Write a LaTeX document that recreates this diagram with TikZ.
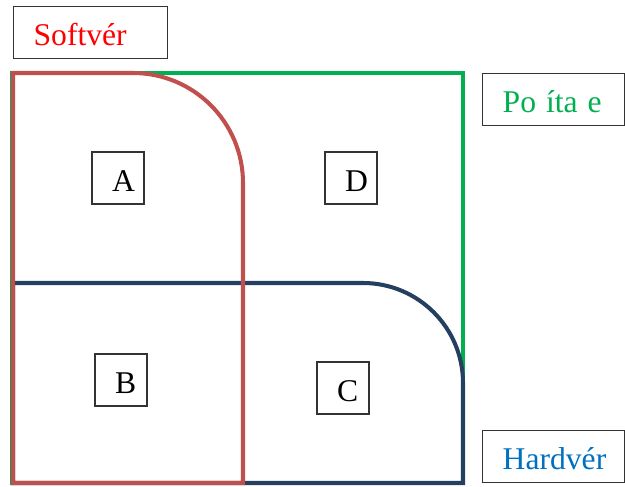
\documentclass[tikz,border=0pt]{standalone}
\usepackage{fontspec}
\setmainfont{Liberation Serif}
\definecolor{grx}{HTML}{00B050}
\definecolor{rdx}{HTML}{C0504D}
\definecolor{nvx}{HTML}{243F60}
\definecolor{blx}{HTML}{0070C0}

\begin{document}
    \begin{tikzpicture}[
            every node/.append style={font=\fontsize{18}{20}\selectfont},
            tag/.style={draw=black!80, line width=0.75pt, align=left,
                inner xsep=0.4cm, inner ysep=0pt, minimum height=1.04cm,
                text height=0.52cm, text depth=0pt},
            cell/.style={tag, text width=0.24cm},
            set/.style={line width=2.3pt}
        ]
        \useasboundingbox (0,0) rectangle (12.5,9.72);
        \draw [set, grx] (0.24,0.06) rectangle (9.26,8.26);
        \draw [set, nvx] (0.26,0.06) -- (0.26,4.06) -- (7.26,4.06)
            arc [start angle=90, end angle=0, radius=2] -- (9.26,0.06) -- cycle;
        \draw [set, rdx] (0.26,0.06) -- (0.26,8.26) -- (2.66,8.26)
            arc [start angle=90, end angle=0, radius=2.2] -- (4.86,0.06) -- cycle;
        \node [tag, text=red, text width=2.28cm, anchor=north west] (soft) at (0.26,9.6) {Softvér};
        \node [tag, text=grx, text width=2.04cm, anchor=north west] (comp) at (9.64,8.26)
            {Po\hspace{0.2cm}íta\hspace{0.2cm}e};
        \node [tag, text=blx, text width=2.04cm, anchor=north west] (hard) at (9.64,1.12) {Hardvér};
        \node [cell] (a) at (2.36,6.16) {A};
        \node [cell] (d) at (7.02,6.16) {D};
        \node [cell] (b) at (2.42,2.12) {B};
        \node [cell] (c) at (6.86,1.96) {C};
    \end{tikzpicture}
\end{document}
